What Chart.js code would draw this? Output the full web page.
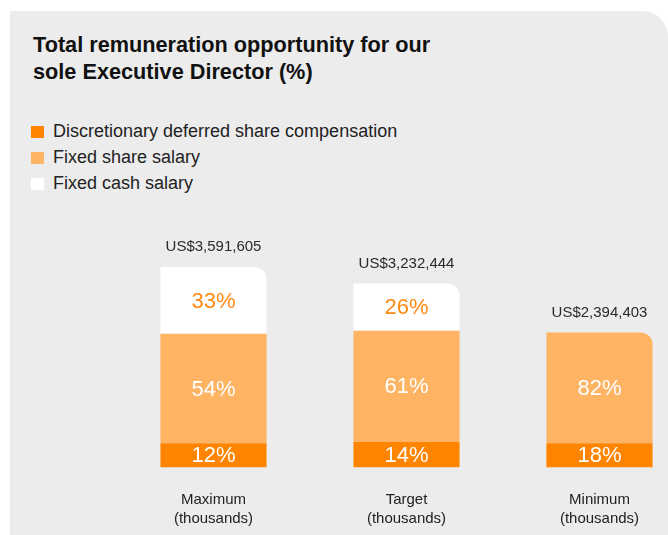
<!DOCTYPE html>
<html>
<head>
<meta charset="utf-8">
<title>Total remuneration opportunity</title>
<script src="https://cdn.jsdelivr.net/npm/chart.js@4"></script>
<style>
  html, body { margin: 0; padding: 0; width: 668px; height: 535px; overflow: hidden; background: #ffffff; }
  body { position: relative; font-family: "Liberation Sans", Arial, Helvetica, sans-serif; }
  #panel { position: absolute; left: 10px; top: 11px; width: 658px; height: 524px; background: #ececec; border-top-right-radius: 26px; }
  #title { position: absolute; left: 33px; top: 31px; margin: 0; font-size: 21.7px; line-height: 27px; font-weight: bold; color: #111; }
  #legend { position: absolute; left: 31px; top: 118px; margin: 0; padding: 0; list-style: none; }
  #legend li { height: 26px; line-height: 26px; font-size: 18px; color: #222; white-space: nowrap; }
  #legend .sw { display: inline-block; width: 13px; height: 12px; margin-right: 9px; vertical-align: -1px; }
  #chartBox { position: absolute; left: 0; top: 0; width: 720px; height: 560px; }
</style>
</head>
<body>
<div id="panel"></div>
<h1 id="title">Total remuneration opportunity for our<br>sole Executive Director (%)</h1>
<ul id="legend"></ul>
<div id="chartBox"><canvas id="chart" width="720" height="560"></canvas></div>
<script>
// Scenarios and the share of each pay element (in %) per scenario
const categories = [['Maximum', '(thousands)'], ['Target', '(thousands)'], ['Minimum', '(thousands)']];
const totals = [3591605, 3232444, 2394403];
const deferredSharePct = [12, 14, 18];
const fixedSharePct = [54, 61, 82];
const fixedCashPct = [33, 26, 0];
const seriesNames = ['Discretionary deferred share compensation', 'Fixed share salary', 'Fixed cash salary'];
const seriesColors = ['#ff8500', '#ffb464', '#ffffff'];

// Segment sizes in thousands of US$
const toThousands = pcts => pcts.map((p, i) => totals[i] / 1000 * p / 100);
const seriesPct = [deferredSharePct, fixedSharePct, fixedCashPct];

// HTML legend
const legend = document.getElementById('legend');
seriesNames.forEach((name, i) => {
  const li = document.createElement('li');
  const sw = document.createElement('span');
  sw.className = 'sw';
  sw.style.background = seriesColors[i];
  li.appendChild(sw);
  li.appendChild(document.createTextNode(name));
  legend.appendChild(li);
});

const fmtUSD = v => 'US$' + v.toLocaleString('en-US');

// Index of the highest non-empty segment in each bar
function topIndex(col) {
  for (let d = seriesPct.length - 1; d >= 0; d--) if (seriesPct[d][col] > 0) return d;
  return 0;
}

const labelPlugin = {
  id: 'segmentLabels',
  afterDatasetsDraw(chart) {
    const ctx = chart.ctx;
    ctx.save();
    ctx.textAlign = 'center';
    ctx.textBaseline = 'middle';
    chart.data.datasets.forEach((ds, d) => {
      const meta = chart.getDatasetMeta(d);
      meta.data.forEach((bar, i) => {
        const pct = seriesPct[d][i];
        if (!pct) return;
        const { y, base } = bar.getProps(['y', 'base'], true);
        ctx.font = '22px "Liberation Sans", Arial, sans-serif';
        ctx.fillStyle = d === 2 ? '#ff8a12' : '#ffffff';
        ctx.fillText(pct + '%', bar.x, (y + base) / 2 + 1);
      });
    });
    // Totals above each stack
    ctx.font = '15px "Liberation Sans", Arial, sans-serif';
    ctx.fillStyle = '#2a2a2a';
    totals.forEach((t, i) => {
      const top = chart.getDatasetMeta(topIndex(i)).data[i];
      ctx.fillText(fmtUSD(t), top.x, top.y - 20);
    });
    ctx.restore();
  }
};

new Chart(document.getElementById('chart'), {
  type: 'bar',
  data: {
    labels: categories,
    datasets: seriesPct.map((pcts, d) => ({
      label: seriesNames[d],
      data: toThousands(pcts),
      backgroundColor: seriesColors[d],
      borderWidth: 0,
      borderSkipped: false,
      borderRadius: c => (c.dataIndex !== undefined && topIndex(c.dataIndex) === d)
        ? { topLeft: 0, topRight: 12, bottomLeft: 0, bottomRight: 0 }
        : 0,
      categoryPercentage: 0.55,
      barPercentage: 1
    }))
  },
  options: {
    responsive: false,
    animation: false,
    layout: { padding: { left: 117, right: 24, top: 242, bottom: 17 } },
    plugins: { legend: { display: false }, tooltip: { enabled: false } },
    scales: {
      x: {
        stacked: true,
        grid: { display: false },
        border: { display: false },
        ticks: {
          color: '#222',
          padding: 15,
          font: { family: '"Liberation Sans", Arial, sans-serif', size: 15, lineHeight: 1.25 }
        }
      },
      y: { stacked: true, display: false, min: 0, max: 4000 }
    }
  },
  plugins: [labelPlugin]
});
</script>
</body>
</html>
